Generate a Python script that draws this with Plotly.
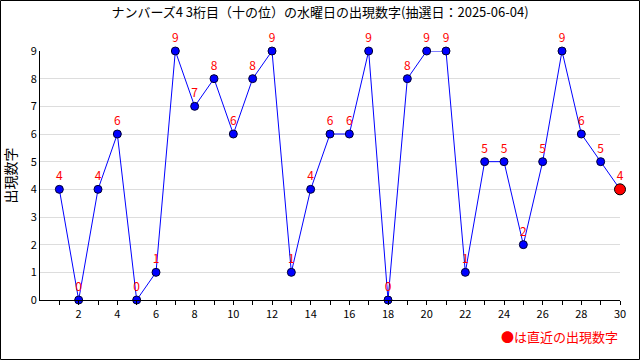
import plotly.graph_objects as go

draws = list(range(1, 31))
digits = [4, 0, 4, 6, 0, 1, 9, 7, 8, 6, 8, 9, 1, 4, 6, 6, 9, 0, 8, 9, 9, 1, 5, 5, 2, 5, 9, 6, 5, 4]
y_ticks = list(range(0, 10))
x_tick_labels = [str(v) if v % 2 == 0 else "" for v in draws]

title_text = "ナンバーズ4\u00a03桁目（十の位）の水曜日の出現数字(抽選日：2025-06-04)"
y_title = "出現数字"
note_text = "●は直近の出現数字"

FONT = "Noto Sans CJK JP"
W, H = 640, 360
ML, MR, MT, MB = 40, 20, 51, 60
PW, PH = W - ML - MR, H - MT - MB

fig = go.Figure()
fig.add_trace(go.Scatter(
    x=draws, y=digits, mode="lines+markers+text",
    line=dict(color="#0000ff", width=1),
    marker=dict(color="#0000ff", size=8, line=dict(color="#000033", width=1)),
    text=[str(d) for d in digits], textposition="top center",
    textfont=dict(color="#ff0000", size=12, family=FONT),
    cliponaxis=False, showlegend=False, hoverinfo="skip",
))
fig.add_trace(go.Scatter(
    x=[draws[-1]], y=[digits[-1]], mode="markers",
    marker=dict(color="#ff0000", size=11, line=dict(color="#000000", width=1)),
    cliponaxis=False, showlegend=False, hoverinfo="skip",
))

fig.update_layout(
    width=W, height=H,
    margin=dict(l=ML, r=MR, t=MT, b=MB),
    paper_bgcolor="white", plot_bgcolor="white",
    font=dict(family=FONT, size=11, color="#000000"),
    title=dict(text=title_text, x=0.5, xanchor="center", y=1 - 12 / H, yanchor="middle",
               font=dict(size=13, family=FONT, color="#000000")),
    xaxis=dict(range=[0, 30], tickvals=draws, ticktext=x_tick_labels, ticks="outside",
               ticklen=4, tickcolor="#000000", showgrid=False, showline=True,
               linecolor="#000000", linewidth=1, zeroline=False,
               tickfont=dict(size=11, family=FONT)),
    yaxis=dict(range=[0, 9], tickvals=y_ticks, showgrid=True, gridcolor="#dddddd",
               showline=True, linecolor="#000000", linewidth=1, zeroline=False,
               ticks="", tickfont=dict(size=11, family=FONT),
               title=dict(text=y_title, standoff=10, font=dict(size=14, family=FONT))),
    shapes=[dict(type="rect", xref="paper", yref="paper",
                 x0=-(ML - 0.5) / PW, x1=1 + (MR - 0.5) / PW,
                 y0=-(MB - 0.5) / PH, y1=1 + (MT - 0.5) / PH,
                 line=dict(color="#000000", width=1))],
    annotations=[dict(text=note_text, xref="paper", yref="paper",
                      x=1, y=-(336 - MT - PH) / PH, xanchor="right", yanchor="middle",
                      showarrow=False, font=dict(color="#ff0000", size=13, family=FONT))],
)

fig.write_html("out.html", config={"displayModeBar": False},
               post_script="document.body.style.margin='0';")
